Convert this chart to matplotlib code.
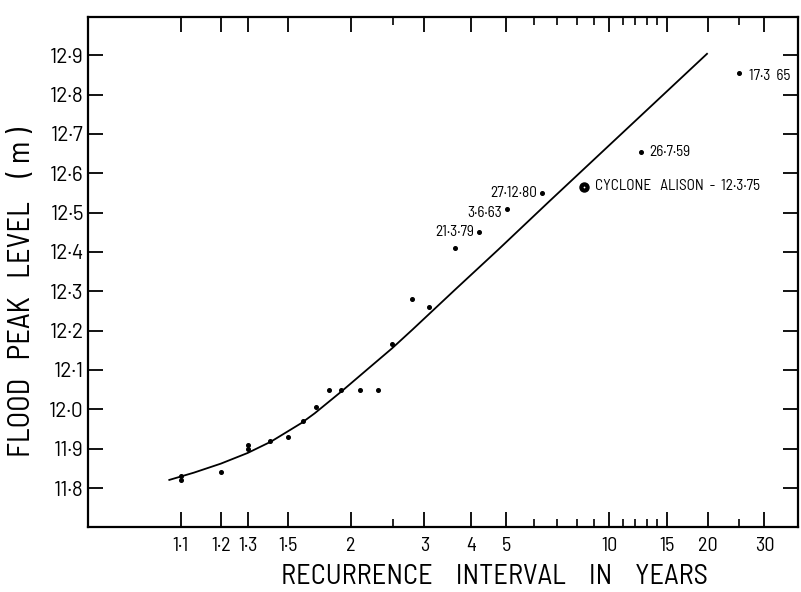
import numpy as np
import matplotlib
matplotlib.use('Agg')
import matplotlib.pyplot as plt
from matplotlib.ticker import FixedLocator, FixedFormatter, NullFormatter

FONT = ['Barlow Semi Condensed', 'Barlow Condensed', 'IBM Plex Sans Condensed', 'DejaVu Sans']
TICKFONT = ['Barlow', 'Barlow Semi Condensed', 'DejaVu Sans']
plt.rcParams['font.family'] = FONT

# ---------------- data ----------------
obs_T = [1.10, 1.10, 1.20, 1.30, 1.30, 1.40, 1.50, 1.60, 1.69, 1.80, 1.90, 2.10, 2.30, 2.49, 2.79, 3.09, 3.60]
obs_level = [11.83, 11.82, 11.84, 11.91, 11.90, 11.92, 11.93, 11.97, 12.005, 12.05, 12.05, 12.05, 12.05, 12.165, 12.28, 12.26, 12.41]

event_T = [4.20, 5.03, 6.35, 12.5, 25.0]
event_level = [12.45, 12.51, 12.55, 12.655, 12.855]
event_labels = ['21·3·79', '3·6·63', '27·12·80', '26·7·59', '17·3  65']

cyclone_T = [8.4]
cyclone_level = [12.565]
cyclone_label = 'CYCLONE   ALISON  -  12·3·75'

curve_T = [1.078, 1.127, 1.20, 1.297, 1.406, 1.586, 1.682, 1.91, 2.19, 2.49, 2.80, 3.63, 4.75, 6.64, 20.0]
curve_level = [11.820, 11.839, 11.862, 11.889, 11.918, 11.965, 11.990, 12.046, 12.104, 12.155, 12.203, 12.306, 12.406, 12.528, 12.905]

x_major = [1.1, 1.2, 1.3, 1.5, 2, 3, 4, 5, 10, 15, 20, 30]
x_major_labels = ['1·1', '1·2', '1·3', '1·5', '2', '3', '4', '5', '10', '15', '20', '30']
x_minor = [2.5, 6, 7, 8, 9, 11, 12, 13, 14, 25]
y_ticks = [11.8, 11.9, 12.0, 12.1, 12.2, 12.3, 12.4, 12.5, 12.6, 12.7, 12.8, 12.9]
y_labels = ['11·8', '11·9', '12·0', '12·1', '12·2', '12·3', '12·4', '12·5', '12·6', '12·7', '12·8', '12·9']

x_label = 'RECURRENCE    INTERVAL    IN    YEARS'
y_label = 'FLOOD   PEAK   LEVEL    (\u2009m\u2009)'


# Gumbel (extreme value) probability scale for recurrence interval
def fwd(T):
    T = np.clip(np.asarray(T, dtype=float), 1.000001, None)
    return -np.log(-np.log(1.0 - 1.0 / T))


def inv(g):
    g = np.asarray(g, dtype=float)
    return 1.0 / (1.0 - np.exp(-np.exp(-g)))


W, H = 801, 592
fig = plt.figure(figsize=(W / 100, H / 100), dpi=100)
ax = fig.add_axes([88 / W, (H - 527) / H, (798 - 88) / W, (527 - 17) / H])

ax.set_xscale('function', functions=(fwd, inv))
ax.set_xlim(1.00896, 38.2)
ax.set_ylim(11.701, 12.997)

# fitted curve
ax.plot(curve_T, curve_level, color='black', lw=1.3, solid_capstyle='butt')

# observed floods
ax.plot(obs_T, obs_level, ls='none', marker='o', ms=2.6, color='black')
ax.plot(event_T, event_level, ls='none', marker='o', ms=2.6, color='black')

# cyclone Alison (circled dot)
ax.plot(cyclone_T, cyclone_level, ls='none', marker='o', ms=6.5, color='black')
ax.plot(cyclone_T, cyclone_level, ls='none', marker='o', ms=1.3, mew=0, color='white')

offsets = [(-5, 0, 'right'), (-5, -4, 'right'), (-5, 0, 'right'), (8, 0, 'left'), (10, -3, 'left')]
for t, lv, lab, (dx, dy, ha) in zip(event_T, event_level, event_labels, offsets):
    ax.annotate(lab, (t, lv), xytext=(dx, dy), textcoords='offset pixels',
                ha=ha, va='center', fontsize=11)
ax.annotate(cyclone_label, (cyclone_T[0], cyclone_level[0]), xytext=(11, 1),
            textcoords='offset pixels', ha='left', va='center', fontsize=11)

# ticks
ax.xaxis.set_major_locator(FixedLocator(x_major))
ax.xaxis.set_major_formatter(FixedFormatter(x_major_labels))
ax.xaxis.set_minor_locator(FixedLocator(x_minor))
ax.xaxis.set_minor_formatter(NullFormatter())
ax.yaxis.set_major_locator(FixedLocator(y_ticks))
ax.yaxis.set_major_formatter(FixedFormatter(y_labels))
ax.yaxis.set_minor_locator(FixedLocator([]))

ax.tick_params(axis='x', which='major', direction='in', top=True, bottom=True,
               length=11, width=1.3, labelsize=14.5, pad=7, color='black')
ax.tick_params(axis='x', which='minor', direction='in', top=True, bottom=True,
               length=6, width=1.2)
ax.tick_params(axis='y', which='major', direction='in', left=True, right=True,
               length=11, width=1.3, labelsize=15, pad=3)
for lab in ax.get_yticklabels():
    lab.set_family(TICKFONT)

for s in ax.spines.values():
    s.set_linewidth(1.6)
    s.set_color('black')

fig.text(494 / W, 1 - 577 / H, x_label, ha='center', va='center', fontsize=20.5)
fig.text(22 / W, 1 - 292 / H, y_label, ha='center', va='center', rotation=90, fontsize=22)

fig.savefig('out.png', dpi=100)
